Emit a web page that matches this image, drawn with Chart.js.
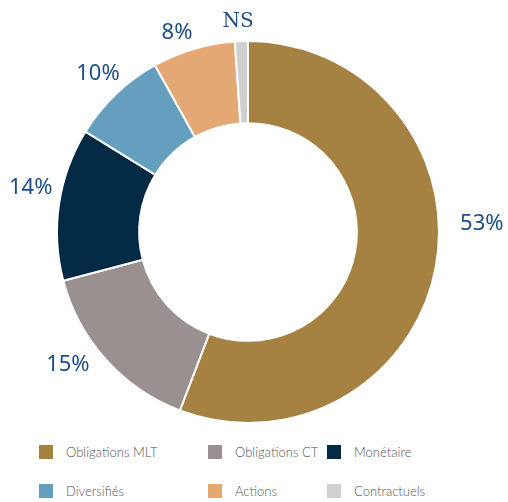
<!DOCTYPE html>
<html>
<head>
<meta charset="utf-8">
<script src="https://cdn.jsdelivr.net/npm/chart.js@4"></script>
<style>
  html, body { margin: 0; padding: 0; background: #fff; }
  #wrap { position: relative; width: 508px; height: 502px; }
  #chart { position: absolute; left: 0; top: 0; }
  .leg { position: absolute; display: flex; align-items: center; font-family: Lato, "Open Sans", sans-serif; font-size: 13px; font-weight: 300; color: #555; white-space: nowrap; }
  .leg span.box { display: inline-block; width: 14px; height: 14px; margin-right: 13px; }
</style>
</head>
<body>
<div id="wrap">
  <canvas id="chart" width="508" height="440"></canvas>
</div>
<script>
const categories = ['Obligations MLT', 'Obligations CT', 'Monétaire', 'Diversifiés', 'Actions', 'Contractuels'];
const shares = [55.8, 15.1, 12.9, 8.1, 7.0, 1.1];
const shareLabels = ['53%', '15%', '14%', '10%', '8%', 'NS'];
const colors = ['#a58241', '#9a9090', '#032a44', '#659fbf', '#e4a874', '#cfd0cf'];

// label placement tweaks (degrees of shift from slice middle, px beyond the ring)
const labelShift = [-12.7, 5.8, 3.4, 0.5, -3, -0.7];
const labelGap = [43, 32, 31, 28, 21, 20];

const labelPlugin = {
  id: 'sliceLabels',
  afterDatasetsDraw(chart) {
    const ctx = chart.ctx;
    const arcs = chart.getDatasetMeta(0).data;
    ctx.save();
    ctx.textAlign = 'center';
    ctx.textBaseline = 'middle';
    arcs.forEach((arc, i) => {
      const mid = (arc.startAngle + arc.endAngle) / 2 + labelShift[i] * Math.PI / 180;
      const r = arc.outerRadius + labelGap[i];
      const x = arc.x + Math.cos(mid) * r;
      const y = arc.y + Math.sin(mid) * r;
      if (shareLabels[i] === 'NS') {
        ctx.font = '20px "DejaVu Serif", serif';
      } else {
        ctx.font = '22px "Noto Sans", sans-serif';
      }
      ctx.fillStyle = '#1d4e89';
      ctx.fillText(shareLabels[i], x, y + 1);
    });
    ctx.restore();
  }
};

new Chart(document.getElementById('chart'), {
  type: 'doughnut',
  data: {
    labels: categories,
    datasets: [{
      data: shares,
      backgroundColor: colors,
      borderColor: '#ffffff',
      borderWidth: 2
    }]
  },
  options: {
    responsive: false,
    animation: false,
    cutout: '57%',
    layout: { padding: { left: 56, top: 40, right: 68, bottom: 16 } },
    plugins: {
      legend: { display: false },
      tooltip: { enabled: false }
    }
  },
  plugins: [labelPlugin]
});

// legend, 3 columns x 2 rows
const legCols = [39, 208, 327];
const legRows = [444, 483];
const wrap = document.getElementById('wrap');
categories.forEach((name, i) => {
  const el = document.createElement('div');
  el.className = 'leg';
  el.style.left = legCols[i % 3] + 'px';
  el.style.top = legRows[Math.floor(i / 3)] + 'px';
  el.innerHTML = '<span class="box" style="background:' + colors[i] + '"></span>' + name;
  wrap.appendChild(el);
});
</script>
</body>
</html>
